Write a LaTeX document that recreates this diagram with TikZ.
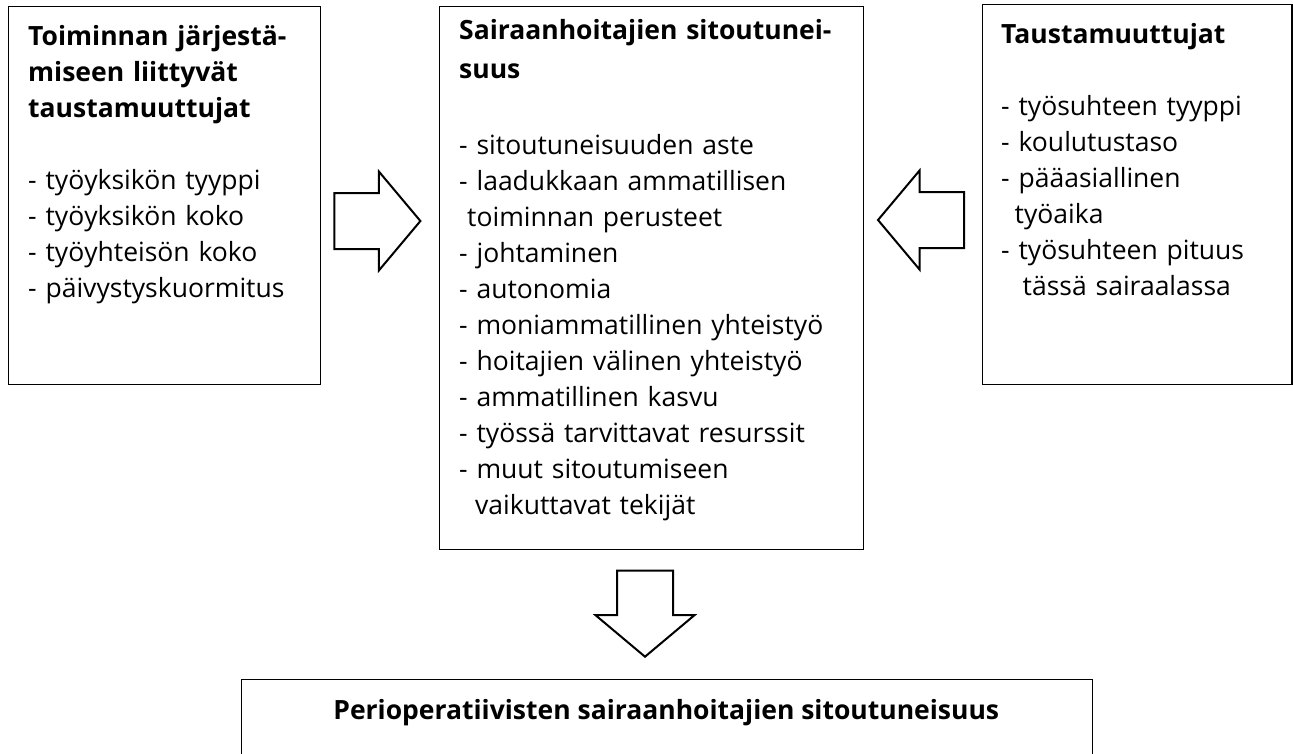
\documentclass[tikz,border=0pt]{standalone}
\usepackage{fontspec}
\setmainfont{Open Sans}
\usetikzlibrary{shapes.arrows}

\begin{document}
\begin{tikzpicture}[x=1pt, y=-1pt,
    framebox/.style={draw, line width=1.3pt, anchor=north west, inner sep=0pt},
    boxtext/.style={anchor=base west, inner sep=0pt, align=left, font=\fontsize{26.5}{36}\selectfont},
    blockarrow/.style={draw, line width=2pt, single arrow, single arrow head extend=21.5pt, anchor=tip,
        single arrow tip angle=100, minimum height=86pt, inner xsep=0pt, inner ysep=27pt}]
    \useasboundingbox (0, 0) rectangle (1293, 753);
    \node[framebox, minimum width=312pt, minimum height=378pt]   (orgbox)   at (8, 6)       {};
    \node[framebox, minimum width=423.5pt, minimum height=543pt] (nursebox) at (439, 5.5)   {};
    \node[framebox, minimum width=309.6pt, minimum height=380pt] (bgbox)    at (981.7, 4)   {};
    \node[framebox, minimum width=851.3pt, minimum height=100pt] (periobox) at (240.7, 679) {};
    % box contents
    \node[boxtext, text width=290pt] (orgtext) at (28, 45.7) {%
        \textbf{Toiminnan järjestä-}\\ \textbf{miseen liittyvät}\\ \textbf{taustamuuttujat}\\[36pt]
        - työyksikön tyyppi\\ - työyksikön koko\\ - työyhteisön koko\\ - päivystyskuormitus};
    \node[boxtext, text width=400pt] (nursetext) at (459, 39.5) {%
        \textbf{Sairaanhoitajien sitoutunei-}\\[3pt] \textbf{suus}\\[40pt]
        - sitoutuneisuuden aste\\ - laadukkaan ammatillisen\\ \hspace*{8pt}toiminnan perusteet\\
        - johtaminen\\ - autonomia\\ - moniammatillinen yhteistyö\\ - hoitajien välinen yhteistyö\\
        - ammatillinen kasvu\\ - työssä tarvittavat resurssit\\ - muut sitoutumiseen\\
        \hspace*{16pt}vaikuttavat tekijät};
    \node[boxtext, text width=280pt] (bgtext) at (1001, 43.5) {%
        \textbf{Taustamuuttujat}\\[35.5pt]
        - työsuhteen tyyppi\\ - koulutustaso\\ - pääasiallinen\\ \hspace*{13.5pt}työaika\\
        - työsuhteen pituus\\ \hspace*{21.5pt}tässä sairaalassa};
    \node[anchor=base, inner sep=0pt, font=\fontsize{26.5}{36}\selectfont\bfseries] (periotext)
        at (666.3, 719) {Perioperatiivisten sairaanhoitajien sitoutuneisuus};
    % block arrows, placed by their tips
    \node[blockarrow]             (arrowin)   at (421.7, 221) {};
    \node[blockarrow, rotate=180] (arrowback) at (876.7, 220) {};
    \node[blockarrow, rotate=-90] (arrowdown) at (645, 658)   {};
\end{tikzpicture}
\end{document}
